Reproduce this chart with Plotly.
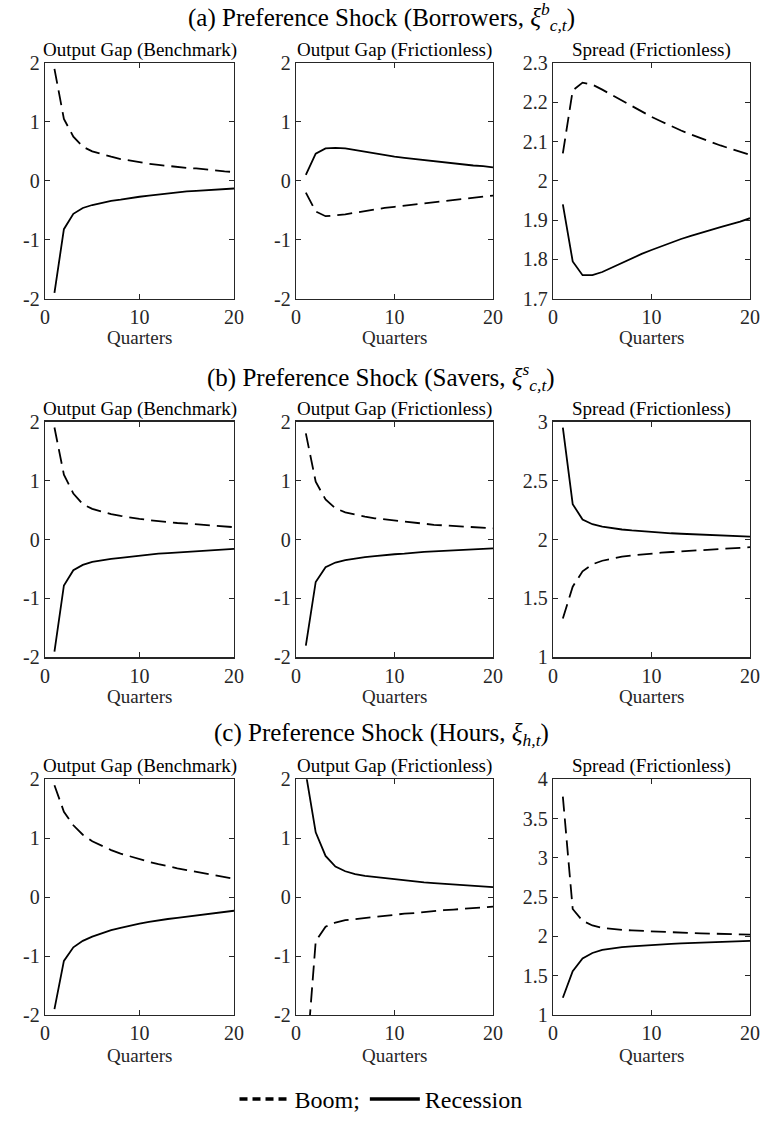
import plotly.graph_objects as go

# ---------------- data ----------------
quarters = list(range(1, 21))

# (a) Preference shock (Borrowers)
a_bench_boom = [1.9, 1.05, 0.75, 0.58, 0.5, 0.45, 0.41, 0.37, 0.34, 0.31, 0.29, 0.27, 0.25, 0.24, 0.22, 0.21, 0.19, 0.18, 0.16, 0.15]
a_bench_rec = [-1.9, -0.82, -0.56, -0.46, -0.41, -0.37, -0.34, -0.32, -0.29, -0.27, -0.25, -0.23, -0.21, -0.2, -0.18, -0.17, -0.16, -0.15, -0.14, -0.13]
a_fric_boom = [-0.2, -0.52, -0.6, -0.59, -0.57, -0.54, -0.51, -0.49, -0.46, -0.44, -0.42, -0.4, -0.38, -0.36, -0.34, -0.32, -0.3, -0.29, -0.27, -0.25]
a_fric_rec = [0.1, 0.46, 0.55, 0.56, 0.55, 0.52, 0.49, 0.46, 0.43, 0.41, 0.39, 0.37, 0.35, 0.33, 0.31, 0.29, 0.28, 0.26, 0.25, 0.23]
a_spread_boom = [2.07, 2.23, 2.25, 2.245, 2.232, 2.218, 2.203, 2.19, 2.176, 2.163, 2.151, 2.139, 2.128, 2.118, 2.108, 2.099, 2.09, 2.082, 2.074, 2.066]
a_spread_rec = [1.94, 1.795, 1.76, 1.76, 1.768, 1.78, 1.792, 1.803, 1.814, 1.824, 1.834, 1.843, 1.852, 1.86, 1.868, 1.875, 1.882, 1.889, 1.896, 1.905]

# (b) Preference shock (Savers)
b_bench_boom = [1.9, 1.1, 0.78, 0.6, 0.52, 0.47, 0.43, 0.4, 0.37, 0.35, 0.33, 0.31, 0.3, 0.28, 0.27, 0.26, 0.24, 0.23, 0.22, 0.21]
b_bench_rec = [-1.9, -0.78, -0.52, -0.43, -0.38, -0.35, -0.33, -0.31, -0.29, -0.27, -0.26, -0.24, -0.23, -0.22, -0.21, -0.2, -0.19, -0.18, -0.17, -0.16]
b_fric_boom = [1.8, 0.98, 0.68, 0.53, 0.46, 0.42, 0.39, 0.36, 0.34, 0.32, 0.3, 0.28, 0.27, 0.25, 0.24, 0.23, 0.22, 0.21, 0.2, 0.19]
b_fric_rec = [-1.8, -0.72, -0.47, -0.39, -0.35, -0.32, -0.3, -0.28, -0.26, -0.25, -0.24, -0.22, -0.21, -0.2, -0.19, -0.18, -0.17, -0.16, -0.15, -0.15]
b_spread_boom = [1.33, 1.6, 1.73, 1.79, 1.82, 1.84, 1.855, 1.865, 1.874, 1.882, 1.888, 1.894, 1.9, 1.905, 1.91, 1.915, 1.92, 1.925, 1.93, 1.935]
b_spread_rec = [2.95, 2.3, 2.17, 2.13, 2.11, 2.095, 2.085, 2.077, 2.07, 2.064, 2.058, 2.053, 2.049, 2.045, 2.041, 2.037, 2.034, 2.031, 2.028, 2.025]

# (c) Preference shock (Hours)
c_bench_boom = [1.9, 1.45, 1.22, 1.06, 0.95, 0.87, 0.8, 0.74, 0.69, 0.64, 0.6, 0.56, 0.52, 0.49, 0.46, 0.43, 0.4, 0.37, 0.34, 0.31]
c_bench_rec = [-1.9, -1.08, -0.85, -0.74, -0.67, -0.61, -0.56, -0.52, -0.48, -0.45, -0.42, -0.39, -0.37, -0.35, -0.33, -0.31, -0.29, -0.27, -0.25, -0.23]
c_fric_boom = [-2.9, -0.75, -0.5, -0.43, -0.39, -0.37, -0.35, -0.33, -0.32, -0.3, -0.28, -0.27, -0.25, -0.24, -0.22, -0.21, -0.2, -0.18, -0.17, -0.16]
c_fric_rec = [2.1, 1.1, 0.7, 0.52, 0.44, 0.39, 0.36, 0.34, 0.32, 0.3, 0.28, 0.27, 0.25, 0.24, 0.23, 0.22, 0.21, 0.2, 0.18, 0.17]
c_spread_boom = [3.78, 2.35, 2.2, 2.14, 2.11, 2.095, 2.085, 2.077, 2.07, 2.064, 2.058, 2.053, 2.048, 2.044, 2.04, 2.036, 2.033, 2.03, 2.027, 2.024]
c_spread_rec = [1.22, 1.56, 1.72, 1.79, 1.83, 1.85, 1.865, 1.875, 1.885, 1.893, 1.9, 1.906, 1.912, 1.917, 1.922, 1.927, 1.932, 1.936, 1.94, 1.944]

section_titles = [
    "(a) Preference Shock (Borrowers, <i>ξ</i><sup><i>b</i></sup><sub><i>c,t</i></sub>)",
    "(b) Preference Shock (Savers, <i>ξ</i><sup><i>s</i></sup><sub><i>c,t</i></sub>)",
    "(c) Preference Shock (Hours, <i>ξ</i><sub><i>h,t</i></sub>)",
]
panel_titles = ["Output Gap (Benchmark)", "Output Gap (Frictionless)", "Spread (Frictionless)"]
x_label = "Quarters"
x_ticks = [0, 10, 20]

gap_ticks = [-2, -1, 0, 1, 2]
gap_ticktext = ["-2", "-1", "0", "1", "2"]
spread_a_ticks = [1.7, 1.8, 1.9, 2.0, 2.1, 2.2, 2.3]
spread_a_ticktext = ["1.7", "1.8", "1.9", "2", "2.1", "2.2", "2.3"]
spread_b_ticks = [1, 1.5, 2, 2.5, 3]
spread_b_ticktext = ["1", "1.5", "2", "2.5", "3"]
spread_c_ticks = [1, 1.5, 2, 2.5, 3, 3.5, 4]
spread_c_ticktext = ["1", "1.5", "2", "2.5", "3", "3.5", "4"]

panels = [
    [(a_bench_boom, a_bench_rec, gap_ticks, gap_ticktext),
     (a_fric_boom, a_fric_rec, gap_ticks, gap_ticktext),
     (a_spread_boom, a_spread_rec, spread_a_ticks, spread_a_ticktext)],
    [(b_bench_boom, b_bench_rec, gap_ticks, gap_ticktext),
     (b_fric_boom, b_fric_rec, gap_ticks, gap_ticktext),
     (b_spread_boom, b_spread_rec, spread_b_ticks, spread_b_ticktext)],
    [(c_bench_boom, c_bench_rec, gap_ticks, gap_ticktext),
     (c_fric_boom, c_fric_rec, gap_ticks, gap_ticktext),
     (c_spread_boom, c_spread_rec, spread_c_ticks, spread_c_ticktext)],
]

# ---------------- layout geometry (pixels) ----------------
W, H = 762, 1122
col_px = [(45, 234), (296, 493), (553, 750)]
row_px = [(63, 299), (422, 658), (780, 1016)]
section_title_y = [17, 377, 735]
quarters_y = [338, 697, 1056]

SERIF = "Liberation Serif, Times New Roman, Times, DejaVu Serif, serif"
AXC = "#262626"

fig = go.Figure()
layout = dict(
    width=W, height=H,
    margin=dict(l=0, r=0, t=0, b=0),
    paper_bgcolor="white", plot_bgcolor="white",
    font=dict(family=SERIF, size=20, color=AXC),
    showlegend=True,
)
annotations = []

for r in range(3):
    for c in range(3):
        k = r * 3 + c + 1
        xs = "" if k == 1 else str(k)
        boom, rec, yt, ytt = panels[r][c]
        fig.add_trace(go.Scatter(x=quarters, y=rec, mode="lines",
                                 line=dict(color="black", width=1.8),
                                 xaxis="x" + xs, yaxis="y" + xs, showlegend=False,
                                 hoverinfo="skip"))
        fig.add_trace(go.Scatter(x=quarters, y=boom, mode="lines",
                                 line=dict(color="black", width=1.8, dash="15px,7px"),
                                 xaxis="x" + xs, yaxis="y" + xs, showlegend=False,
                                 hoverinfo="skip"))
        x0, x1 = col_px[c]
        y0, y1 = row_px[r]
        axis_common = dict(showline=True, linecolor=AXC, linewidth=1.3, mirror="ticks",
                           ticks="inside", ticklen=5, tickwidth=1, tickcolor=AXC,
                           showgrid=False, zeroline=False, automargin=False,
                           tickfont=dict(family=SERIF, size=20, color=AXC))
        layout["xaxis" + xs] = dict(axis_common, domain=[x0 / W, x1 / W], range=[0, 20],
                                    tickvals=x_ticks, anchor="y" + xs)
        layout["yaxis" + xs] = dict(axis_common, domain=[1 - y1 / H, 1 - y0 / H],
                                    range=[yt[0], yt[-1]], tickvals=yt, ticktext=ytt,
                                    anchor="x" + xs)
        # panel title
        annotations.append(dict(text=panel_titles[c], x=(x0 + x1) / 2 / W, y=1 - y0 / H,
                                xref="paper", yref="paper", xanchor="center", yanchor="bottom",
                                showarrow=False, yshift=0,
                                font=dict(family=SERIF, size=19, color="black")))
        # x-axis label
        annotations.append(dict(text=x_label, x=(x0 + x1) / 2 / W, y=1 - quarters_y[r] / H,
                                xref="paper", yref="paper", xanchor="center", yanchor="middle",
                                showarrow=False,
                                font=dict(family=SERIF, size=19, color=AXC)))
    annotations.append(dict(text=section_titles[r], x=0.5, y=1 - section_title_y[r] / H,
                            xref="paper", yref="paper", xanchor="center", yanchor="middle",
                            showarrow=False,
                            font=dict(family=SERIF, size=25, color="black")))

# legend entries
fig.add_trace(go.Scatter(x=[None], y=[None], mode="lines", name="Boom;",
                         line=dict(color="black", width=3.5, dash="8px,5px")))
fig.add_trace(go.Scatter(x=[None], y=[None], mode="lines", name="Recession",
                         line=dict(color="black", width=3.5)))

layout["legend"] = dict(orientation="h", x=0.5, xanchor="center", y=1 - 1100 / H,
                        yanchor="middle", bgcolor="rgba(0,0,0,0)",
                        font=dict(family=SERIF, size=24, color="black"),
                        itemwidth=50, tracegroupgap=0)
layout["annotations"] = annotations
fig.update_layout(**layout)

fig.write_html("out.html",
               config={"displayModeBar": False, "staticPlot": True},
               post_script="document.body.style.margin='0';document.body.style.overflow='hidden';")
